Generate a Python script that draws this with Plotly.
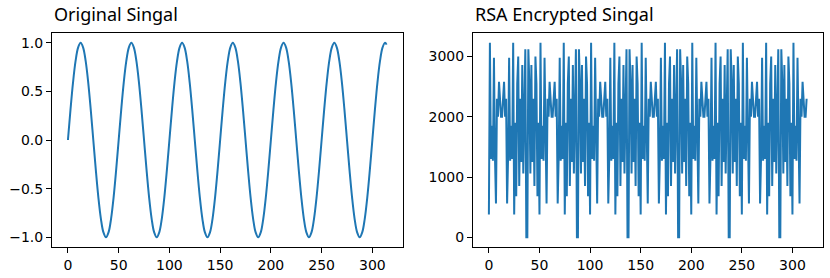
import plotly.graph_objects as go

# ---- Original signal (one sample every 2.5 x-units) ----
sig_x = [2.5 * i for i in range(126)] + [314]
sig_y = [
    0, 0.31, 0.59, 0.81, 0.95, 1.0, 0.95, 0.81, 0.59, 0.31, 0, -0.31, -0.59, -0.81, -0.95, -1.0, -0.95, -0.81, -0.59, -0.31,
    0, 0.31, 0.59, 0.81, 0.95, 1.0, 0.95, 0.81, 0.59, 0.31, 0, -0.31, -0.59, -0.81, -0.95, -1.0, -0.95, -0.81, -0.59, -0.31,
    0, 0.31, 0.59, 0.81, 0.95, 1.0, 0.95, 0.81, 0.59, 0.31, 0, -0.31, -0.59, -0.81, -0.95, -1.0, -0.95, -0.81, -0.59, -0.31,
    0, 0.31, 0.59, 0.81, 0.95, 1.0, 0.95, 0.81, 0.59, 0.31, 0, -0.31, -0.59, -0.81, -0.95, -1.0, -0.95, -0.81, -0.59, -0.31,
    0, 0.31, 0.59, 0.81, 0.95, 1.0, 0.95, 0.81, 0.59, 0.31, 0, -0.31, -0.59, -0.81, -0.95, -1.0, -0.95, -0.81, -0.59, -0.31,
    0, 0.31, 0.59, 0.81, 0.95, 1.0, 0.95, 0.81, 0.59, 0.31, 0, -0.31, -0.59, -0.81, -0.95, -1.0, -0.95, -0.81, -0.59, -0.31,
    0, 0.31, 0.59, 0.81, 0.95, 1.0,
    0.98,
]

# ---- RSA encrypted signal (estimated sample by sample from the right panel) ----
enc_y = [
    380, 3230, 1300, 1850, 1270, 2980, 1350, 560, 2300, 2000, 2580, 2300, 2000, 2000, 2300, 2580, 2000, 2300, 560, 1350, 2980, 1270, 1850, 1300, 3230,
    380, 1900, 680, 2550, 3000, 850, 2300, 1250, 2860, 1060, 2550, 3120, 0, 0, 3120, 2550, 1060, 2860, 1250, 2300, 850, 3000, 2550, 680, 1900,
    380, 3230, 1300, 1850, 1270, 2980, 1350, 560, 2300, 2000, 2580, 2300, 2000, 2000, 2300, 2580, 2000, 2300, 560, 1350, 2980, 1270, 1850, 1300, 3230,
    380, 1900, 680, 2550, 3000, 850, 2300, 1250, 2860, 1060, 2550, 3120, 0, 0, 3120, 2550, 1060, 2860, 1250, 2300, 850, 3000, 2550, 680, 1900,
    380, 3230, 1300, 1850, 1270, 2980, 1350, 560, 2300, 2000, 2580, 2300, 2000, 2000, 2300, 2580, 2000, 2300, 560, 1350, 2980, 1270, 1850, 1300, 3230,
    380, 1900, 680, 2550, 3000, 850, 2300, 1250, 2860, 1060, 2550, 3120, 0, 0, 3120, 2550, 1060, 2860, 1250, 2300, 850, 3000, 2550, 680, 1900,
    380, 3230, 1300, 1850, 1270, 2980, 1350, 560, 2300, 2000, 2580, 2300, 2000, 2000, 2300, 2580, 2000, 2300, 560, 1350, 2980, 1270, 1850, 1300, 3230,
    380, 1900, 680, 2550, 3000, 850, 2300, 1250, 2860, 1060, 2550, 3120, 0, 0, 3120, 2550, 1060, 2860, 1250, 2300, 850, 3000, 2550, 680, 1900,
    380, 3230, 1300, 1850, 1270, 2980, 1350, 560, 2300, 2000, 2580, 2300, 2000, 2000, 2300, 2580, 2000, 2300, 560, 1350, 2980, 1270, 1850, 1300, 3230,
    380, 1900, 680, 2550, 3000, 850, 2300, 1250, 2860, 1060, 2550, 3120, 0, 0, 3120, 2550, 1060, 2860, 1250, 2300, 850, 3000, 2550, 680, 1900,
    380, 3230, 1300, 1850, 1270, 2980, 1350, 560, 2300, 2000, 2580, 2300, 2000, 2000, 2300, 2580, 2000, 2300, 560, 1350, 2980, 1270, 1850, 1300, 3230,
    380, 1900, 680, 2550, 3000, 850, 2300, 1250, 2860, 1060, 2550, 3120, 0, 0, 3120, 2550, 1060, 2860, 1250, 2300, 850, 3000, 2550, 680, 1900,
    380, 3230, 1300, 1850, 1270, 2980, 1350, 560, 2300, 2000, 2580, 2300, 2000, 2000, 2300,
]
enc_x = list(range(len(enc_y)))

x_ticks = [0, 50, 100, 150, 200, 250, 300]
left_y_ticks = [-1.0, -0.5, 0.0, 0.5, 1.0]
left_y_text = ["\u22121.0", "\u22120.5", "0.0", "0.5", "1.0"]
right_y_ticks = [0, 1000, 2000, 3000]

titles = ["Original Singal", "RSA Encrypted Singal"]

BLUE = "#1f77b4"
TICK_FONT = "DejaVu Sans"
TITLE_FONT = "Noto Sans"

fig = go.Figure()
fig.add_trace(go.Scatter(x=sig_x, y=sig_y, mode="lines", line=dict(color=BLUE, width=2, shape="spline"),
                         xaxis="x", yaxis="y", hoverinfo="skip"))
fig.add_trace(go.Scatter(x=enc_x, y=enc_y, mode="lines", line=dict(color=BLUE, width=2),
                         xaxis="x2", yaxis="y2", hoverinfo="skip"))

W, H = 830, 278
ax_common = dict(showline=True, mirror=True, linecolor="black", linewidth=1, showgrid=False,
                 zeroline=False, ticks="outside", ticklen=5, tickwidth=1, tickcolor="black",
                 automargin=False,
                 tickfont=dict(family=TICK_FONT, size=14, color="black"))

left_dom = [52 / W, 402.5 / W]
right_dom = [473 / W, 822.5 / W]
y_dom = [(H - 247) / H, (H - 33) / H]

enc_max = max(enc_y)
enc_min = min(enc_y)
pad = 0.05 * (enc_max - enc_min)

fig.update_layout(
    width=W, height=H, margin=dict(l=0, r=0, t=0, b=0, autoexpand=False),
    paper_bgcolor="white", plot_bgcolor="white", showlegend=False,
    font=dict(family=TICK_FONT, size=14, color="black"),
    xaxis=dict(domain=left_dom, range=[-15.7, 329.7], tickvals=x_ticks, anchor="y", **ax_common),
    yaxis=dict(domain=y_dom, range=[-1.1, 1.1], tickvals=left_y_ticks, ticktext=left_y_text, anchor="x", **ax_common),
    xaxis2=dict(domain=right_dom, range=[-15.7, 329.7], tickvals=x_ticks, anchor="y2", **ax_common),
    yaxis2=dict(domain=y_dom, range=[enc_min - pad, enc_max + pad], tickvals=right_y_ticks, anchor="x2", **ax_common),
)

for dom, t in zip([left_dom, right_dom], titles):
    fig.add_annotation(text=t, xref="paper", yref="paper", x=dom[0], y=(H - 28) / H,
                       xanchor="left", yanchor="bottom", showarrow=False,
                       font=dict(family=TITLE_FONT, size=18, color="black"))

fig.write_html("out.html", config={"displayModeBar": False},
               post_script="document.body.style.margin='0';document.body.style.overflow='hidden';")
